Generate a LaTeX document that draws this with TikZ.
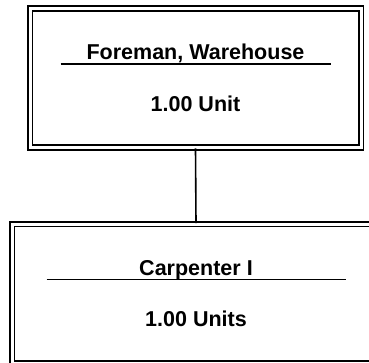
\documentclass[tikz,border=0pt]{standalone}
\usepackage{fontspec}
\setmainfont{Liberation Sans}
\tikzset{
  posbox/.style={draw, double, double distance=3pt, line width=1.8pt,
    minimum height=139pt, inner sep=0pt},
  postext/.style={anchor=base, inner sep=0pt, font=\fontsize{21.5}{25}\selectfont\bfseries},
  rule/.style={line width=1.6pt},
  conn/.style={line width=1.6pt}
}
\begin{document}
\begin{tikzpicture}[x=1pt,y=1pt]
\useasboundingbox (0,0) rectangle (369,362);
% top position
\node[posbox, minimum width=331pt] (foreman) at (195.5,284) {};
\node[postext] (foremanname) at ([yshift=18pt]foreman.center) {Foreman, Warehouse};
\draw[rule] ([shift={(-135pt,14pt)}]foreman.center) -- +(270pt,0);
\node[postext] (foremanunits) at ([yshift=-33pt]foreman.center) {1.00 Unit};
% bottom position
\node[posbox, minimum width=368pt] (carpenter) at (196,68.5) {};
\node[postext] (carpentername) at ([yshift=18pt]carpenter.center) {Carpenter I};
\draw[rule] ([shift={(-149.5pt,14pt)}]carpenter.center) -- +(299pt,0);
\node[postext] (carpenterunits) at ([yshift=-33pt]carpenter.center) {1.00 Units};
% link
\draw[conn] (foreman.south) -- (carpenter.north);
\end{tikzpicture}
\end{document}
